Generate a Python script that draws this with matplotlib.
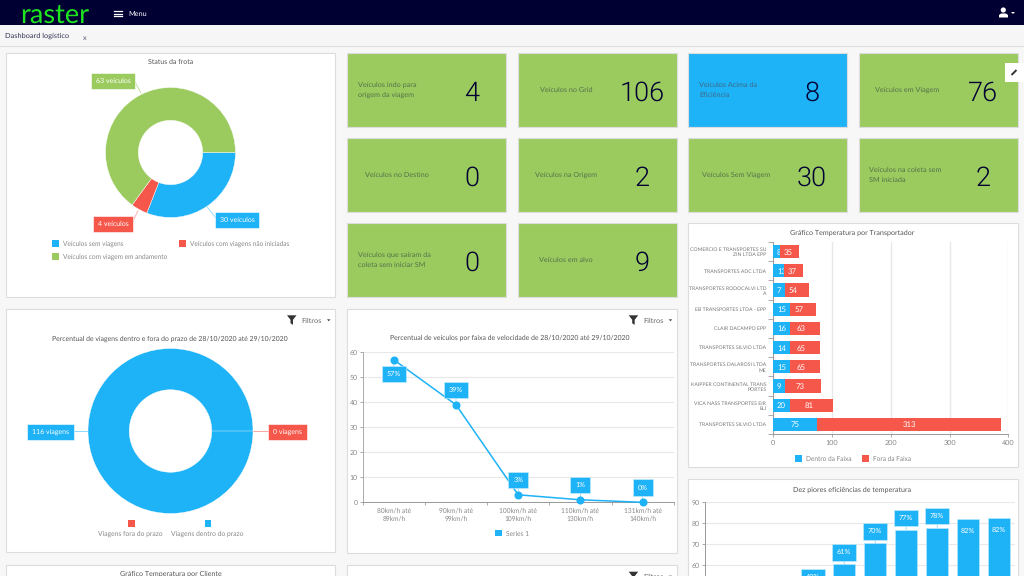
import numpy as np
import matplotlib
matplotlib.use('Agg')
import matplotlib.pyplot as plt
from matplotlib.patches import Rectangle, Polygon, Circle

# colours
BLUE = '#1eb2f7'
GREEN = '#9bcb5f'
RED = '#f6574b'
NAVY = '#000033'
GRAY = '#888888'
GRID = '#e8e8e8'

# status da frota
frota_labels = ['Veículos sem viagens', 'Veículos com viagens não iniciadas', 'Veículos com viagem em andamento']
frota_values = [30, 4, 63]

# prazo
prazo_labels = ['Viagens dentro do prazo', 'Viagens fora do prazo']
prazo_values = [116, 0]

# velocidade
vel_labels = ['80km/h até\n89km/h', '90km/h até\n99km/h', '100km/h até\n109km/h', '110km/h até\n130km/h', '131km/h até\n140km/h']
vel_values = [57, 39, 3, 1, 0]

# temperatura por transportador
transp_labels = ['COMERCIO E TRANSPORTES SU\nZIN LTDA EPP', 'TRANSPORTES ADC LTDA', 'TRANSPORTES RODOCALVI LTD\nA',
                 'EB TRANSPORTES LTDA - EPP', 'CLAIR DACAMPO EPP', 'TRANSPORTES SILVIO LTDA',
                 'TRANSPORTES DALAROSI LTDA\nME', 'KAIPPER CONTINENTAL TRANS\nPORTES', 'VICA NASS TRANSPORTES EIR\nELI',
                 'TRANSPORTES SILVIO LTDA']
dentro_values = [8, 13, 7, 15, 16, 14, 15, 9, 20, 75]
fora_values = [35, 37, 54, 57, 63, 65, 65, 73, 81, 313]

# eficiencias, the first three bars are below the bottom of the screen
efic_slots = [3, 4, 5, 6, 7, 8, 9]
efic_values = [49, 60.5, 70.5, 77, 78, 82, 82.3]
efic_labels = ['49%', '61%', '70%', '77%', '78%', '82%', '82%']

# cards
card_labels = ['Veículos indo para\norigem da viagem', 'Veículos no Grid', 'Veículos Acima da\nEficiência', 'Veículos em Viagem',
               'Veículos no Destino', 'Veículos na Origem', 'Veículos Sem Viagem', 'Veículos na coleta sem\nSM iniciada',
               'Veículos que saíram da\ncoleta sem iniciar SM', 'Veículos em alvo']
card_values = [4, 106, 8, 76, 0, 2, 30, 2, 0, 9]

# card layout in pixels
card_x = [347, 518, 688, 859, 347, 518, 688, 859, 347, 518]
card_y = [53, 53, 53, 53, 138, 138, 138, 138, 223, 223]
card_text_x = [358, 540, 699, 875, 365, 535, 702, 869, 358, 539]
card_num_x = [472, 642, 812, 983, 472, 642, 812, 983, 472, 642]

W, H = 1024, 576
plt.rcParams['font.family'] = ['Lato', 'DejaVu Sans']
plt.rcParams['text.hinting'] = 'no_hinting'
fig = plt.figure(figsize=(W / 100, H / 100), dpi=100, facecolor='#f7f7f7')


def px_axes(x, y, w, h):
    ax = fig.add_axes([x / W, 1 - (y + h) / H, w / W, h / H])
    ax.patch.set_alpha(0)
    return ax


page = fig.add_axes([0, 0, 1, 1])
page.set_xlim(0, W)
page.set_ylim(H, 0)
page.axis('off')


def box(x, y, w, h, color, edge='none', z=1):
    page.add_patch(Rectangle((x, y), w, h, fc=color, ec=edge, lw=0.8, zorder=z))


def panel(x, y, w, h):
    box(x, y, w, h, 'white', '#dddddd')


def label(x, y, text, size=5, color='#555555', ha='center'):
    page.text(x, y, text, fontsize=size, color=color, ha=ha, va='center_baseline', zorder=3)


def filtros(x, y):
    page.add_patch(Polygon([(x, y), (x + 9.5, y), (x + 6, y + 4.5), (x + 6, y + 9.5), (x + 3.5, y + 8), (x + 3.5, y + 4.5)],
                           fc='#333333', ec='none', zorder=3))
    label(x + 14.5, y + 5, 'Filtros', 5.3, '#666666', 'left')
    page.add_patch(Polygon([(x + 40, y + 4), (x + 43.5, y + 4), (x + 41.7, y + 6)], fc='#444444', ec='none', zorder=3))


def tag(x, y, text, color):
    page.text(x, y, text, fontsize=5, color='white', ha='center', va='center_baseline', zorder=5,
              bbox=dict(boxstyle='square,pad=0.7', fc=color, ec='#ffffff', lw=0.4))


def legend_item(x, y, color, text):
    box(x, y - 3.5, 7, 7, color, z=3)
    label(x + 11, y, text, 4.7, GRAY, 'left')


# top bars
box(0, 0, W, 25, NAVY)
box(0, 25, W, 21, '#f6f6f6')
page.plot([0, W], [46, 46], color='#dddddd', lw=0.8)
page.text(20, 12.5, 'raster', fontsize=19.5, color='#1ee61e', va='center_baseline', zorder=3)
for yy in [11, 13.5, 16]:
    page.plot([114, 122], [yy, yy], color='white', lw=0.9, zorder=3)
label(128, 13.5, 'Menu', 5.2, 'white', 'left')
page.add_patch(Circle((1003.3, 10), 2.6, fc='white', ec='none', zorder=3))
page.add_patch(Polygon([(999, 17.5), (999, 15), (1001, 13.5), (1006, 13.5), (1008, 15), (1008, 17.5)], fc='white', ec='none', zorder=3))
page.add_patch(Polygon([(1011, 12), (1015, 12), (1013, 14)], fc='white', ec='none', zorder=3))
label(5, 35, 'Dashboard logístico', 5.3, '#333355', 'left')
label(85, 37, 'x', 5.2, '#555577')

# panels
panel(6, 53, 329, 244)
panel(6, 309, 329, 243)
panel(6, 565, 329, 20)
panel(347, 309, 330, 244)
panel(347, 565, 330, 20)
panel(688, 223, 330, 244)
panel(688, 479, 330, 110)

# cards
for i in range(len(card_labels)):
    color = BLUE if i == 2 else GREEN
    box(card_x[i], card_y[i], 159, 74, color, '#dddddd')
    cy = card_y[i] + 37
    page.text(card_text_x[i], cy, card_labels[i], fontsize=5.2, color='#3d6b85' if i == 2 else '#55714a',
              va='center', linespacing=1.6, zorder=3)
    page.text(card_num_x[i], cy + 0.5, str(card_values[i]), fontsize=19.5, color=NAVY, ha='center', va='center_baseline',
              family='Roboto', weight=300, zorder=3)

box(1005, 63, 19, 19, 'white', z=4)
page.plot([1011.5, 1016.5], [75, 70], color='#333333', lw=1.4, solid_capstyle='butt', zorder=5)

# status da frota
label(170.5, 61, 'Status da frota', 5)
ax1 = px_axes(170.5 - 65, 152.5 - 65, 130, 130)
ax1.pie(frota_values, colors=[BLUE, RED, GREEN], startangle=0, counterclock=False, radius=1,
        wedgeprops=dict(width=0.505, edgecolor='white', linewidth=0.3))
ax1.set_xlim(-1, 1)
ax1.set_ylim(-1, 1)
page.plot([207, 217], [206.7, 219.5], color=BLUE, lw=0.5, alpha=0.6, zorder=3)
page.plot([138, 132], [210.7, 223], color=RED, lw=0.5, alpha=0.6, zorder=3)
page.plot([141, 134], [93, 80], color=GREEN, lw=0.5, alpha=0.8, zorder=3)
tag(113, 80, f'{frota_values[2]} veículos', GREEN)
tag(237, 219.5, f'{frota_values[0]} veículos', BLUE)
tag(113, 223.5, f'{frota_values[1]} veículos', RED)
legend_item(52, 243.5, BLUE, frota_labels[0])
legend_item(179, 243.5, RED, frota_labels[1])
legend_item(52, 256.5, GREEN, frota_labels[2])

# prazo
filtros(287, 315.3)
label(170.3, 337.7, 'Percentual de viagens dentro e fora do prazo de 28/10/2020 até 29/10/2020', 4.95)
ax2 = px_axes(170.5 - 82.5, 431 - 82.5, 165, 165)
ax2.pie(prazo_values, colors=[BLUE, RED], startangle=0, counterclock=False, radius=1,
        wedgeprops=dict(width=0.5, edgecolor='white', linewidth=0.3))
ax2.set_xlim(-1, 1)
ax2.set_ylim(-1, 1)
page.plot([72, 88], [431, 431], color=BLUE, lw=0.6, alpha=0.6, zorder=3)
page.plot([253, 269], [431, 431], color=RED, lw=0.6, alpha=0.6, zorder=3)
tag(50.5, 431, f'{prazo_values[0]} viagens', BLUE)
tag(287.5, 431, f'{prazo_values[1]} viagens', RED)
box(128, 520, 6.5, 6.5, RED, z=3)
box(204.5, 520, 6.5, 6.5, BLUE, z=3)
label(130.5, 533.5, prazo_labels[1], 4.85, GRAY)
label(207.5, 533.5, prazo_labels[0], 4.85, GRAY)

# velocidade
filtros(628.7, 315.3)
label(510, 337.7, 'Percentual de veículos por faixa de velocidade de 28/10/2020 até 29/10/2020', 4.95)
ax3 = px_axes(362.7, 352.3, 311, 150)
vel_x = np.arange(len(vel_values))
ax3.plot(vel_x, vel_values, color=BLUE, lw=1.1, marker='o', ms=4.8, mec=BLUE, clip_on=False, zorder=4)
ax3.set_xlim(-0.5, len(vel_values) - 0.5)
ax3.set_ylim(0, 60)
ax3.set_yticks(range(0, 61, 10))
ax3.set_xticks(np.arange(-0.5, len(vel_values) - 0.4))
ax3.set_xticklabels([])
ax3.set_xticks(vel_x, vel_labels, minor=True)
ax3.tick_params(axis='x', which='minor', length=0, labelsize=4.8, labelcolor=GRAY, pad=4)
ax3.tick_params(axis='x', which='major', length=2.2, color=GRAY, width=0.5)
ax3.tick_params(axis='y', length=2, color=GRAY, width=0.5, labelsize=5, labelcolor=GRAY, pad=1.5)
ax3.grid(axis='y', color=GRID, lw=0.8)
ax3.set_axisbelow(True)
for s in ['top', 'right']:
    ax3.spines[s].set_visible(False)
ax3.spines['left'].set_color('#aaaaaa')
ax3.spines['bottom'].set_color('#999999')
for s in ['left', 'bottom']:
    ax3.spines[s].set_linewidth(0.7)
for i, v in enumerate(vel_values):
    off = -10.4 if i == 0 else 10.6
    ax3.annotate(f'{v}%', (i, v), xytext=(0, off), textcoords='offset points', ha='center', va='center', fontsize=5.2,
                 color='white', zorder=6, annotation_clip=False,
                 bbox=dict(boxstyle='square,pad=0.68', fc=BLUE, ec='#cdeefd', lw=0.4),
                 arrowprops=dict(arrowstyle='-', color=BLUE, lw=0.5, alpha=0.6, shrinkA=0, shrinkB=0))
box(495.3, 529.5, 6.5, 6.5, BLUE, z=3)
label(506, 533, 'Series 1', 4.8, GRAY, 'left')

# temperatura por transportador
label(852.3, 232, 'Gráfico Temperatura por Transportador', 5.1)
ax4 = px_axes(773.3, 242, 235, 192)
y = np.arange(len(transp_labels))
dentro = np.array(dentro_values)
fora = np.array(fora_values)
ax4.barh(y, dentro, height=0.69, color=BLUE, zorder=3)
ax4.barh(y, fora, left=dentro, height=0.69, color=RED, zorder=3)
ax4.set_xlim(0, 400)
ax4.set_ylim(len(transp_labels) - 0.5, -0.5)
ax4.set_xticks(range(0, 401, 100))
ax4.set_yticks(np.arange(-0.5, len(transp_labels) - 0.4))
ax4.set_yticklabels([])
ax4.set_yticks(y, transp_labels, minor=True)
ax4.tick_params(axis='y', which='minor', length=0, labelsize=3.7, labelcolor='#777777', pad=5)
ax4.tick_params(axis='y', which='major', length=3.5, color=GRAY, width=0.5)
ax4.tick_params(axis='x', length=2.2, color=GRAY, width=0.5, labelsize=5.2, labelcolor=GRAY, pad=2)
ax4.grid(axis='x', color=GRID, lw=1.0)
ax4.set_axisbelow(True)
for s in ['top', 'right']:
    ax4.spines[s].set_visible(False)
for s in ['left', 'bottom']:
    ax4.spines[s].set_color('#999999')
    ax4.spines[s].set_linewidth(0.7)
# data labels have a background of the series colour, so they spill over the bars
for i in y:
    half = 10 if dentro[i] < 10 else 14
    cx = max(dentro[i] / 2, half)
    ax4.barh(i, 2 * half, left=cx - half, height=0.69, color=BLUE, zorder=3.1)
    ax4.text(cx, i, str(dentro[i]), fontsize=5.6, color='white', ha='center', va='center_baseline', zorder=3.2)
for i in y:
    cx = dentro[i] + fora[i] / 2
    ax4.barh(i, 27, left=cx - 13.5, height=0.69, color=RED, zorder=3.3)
    ax4.text(cx, i, str(fora[i]), fontsize=5.6, color='white', ha='center', va='center_baseline', zorder=3.4)
legend_item(795, 458.3, BLUE, 'Dentro da Faixa')
legend_item(861.7, 458.3, RED, 'Fora da Faixa')

# eficiencias, runs past the bottom of the screen
label(852, 489, 'Dez piores eficiências de temperatura', 5.1)
ax5 = px_axes(704.7, 502.3, 310, 105)
ax5.bar(efic_slots, efic_values, width=0.7, color=BLUE, edgecolor='#bfe9fd', lw=0.4, zorder=3)
ax5.set_xlim(-0.5, 9.5)
ax5.set_ylim(40, 90)
ax5.set_yticks([60, 70, 80, 90])
ax5.set_xticks([])
ax5.tick_params(axis='y', length=2, color=GRAY, width=0.5, labelsize=5, labelcolor=GRAY, pad=1.5)
ax5.grid(axis='y', color=GRID, lw=0.8)
ax5.set_axisbelow(True)
for s in ['top', 'right', 'bottom']:
    ax5.spines[s].set_visible(False)
ax5.spines['left'].set_color('#999999')
ax5.spines['left'].set_linewidth(0.7)
for i, v in enumerate(efic_values):
    if v > 80:
        # no room above, label sits inside the bar
        ax5.annotate(efic_labels[i], (efic_slots[i], v), xytext=(0, -8.6), textcoords='offset points', ha='center',
                     va='center', fontsize=5.2, color='white', zorder=6)
    else:
        ax5.annotate(efic_labels[i], (efic_slots[i], v), xytext=(0, 8.5), textcoords='offset points', ha='center',
                     va='center', fontsize=5.2, color='white', zorder=6, annotation_clip=False,
                     bbox=dict(boxstyle='square,pad=0.68', fc=BLUE, ec='#cdeefd', lw=0.4),
                     arrowprops=dict(arrowstyle='-', color=BLUE, lw=0.5, alpha=0.6, shrinkA=0, shrinkB=0))

# bottom row, cut by the screen
label(170.5, 573.5, 'Gráfico Temperatura por Cliente', 5.1)
filtros(628.7, 571.7)

page.set_zorder(0)
for a in [ax1, ax2, ax3, ax4, ax5]:
    a.set_zorder(1)

fig.savefig('out.png', dpi=100, facecolor=fig.get_facecolor())
